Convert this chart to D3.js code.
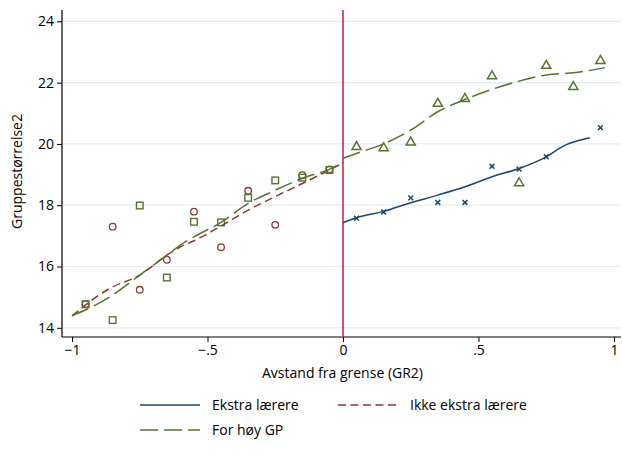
<!DOCTYPE html>
<html>
<head>
<meta charset="utf-8">
<script src="https://cdn.jsdelivr.net/npm/d3@7"></script>
<style>
  body { margin: 0; background: #fff; }
  svg { display: block; font-family: "Open Sans", "Noto Sans", sans-serif; }
</style>
</head>
<body>
<svg id="chart" width="622" height="459"></svg>
<script>
// binned means, left of the border
var xLeft = [-0.95, -0.85, -0.75, -0.65, -0.55, -0.45, -0.35, -0.25, -0.15, -0.05];
var ikkeEkstra = [14.77, 17.30, 15.24, 16.22, 17.79, 16.63, 18.47, 17.36, 18.98, 19.17];
var forHoyLeft = [14.77, 14.25, 17.99, 15.64, 17.46, 17.44, 18.24, 18.81, 18.90, 19.15];

// binned means, right of the border
var xRight = [0.05, 0.15, 0.25, 0.35, 0.45, 0.55, 0.65, 0.75, 0.85, 0.95];
var forHoyRight = [19.93, 19.89, 20.08, 21.34, 21.50, 22.24, 18.75, 22.58, 21.89, 22.74];
var xEkstra = [0.05, 0.15, 0.25, 0.35, 0.45, 0.55, 0.65, 0.75, 0.95];
var ekstra = [17.58, 17.78, 18.24, 18.09, 18.09, 19.27, 19.18, 19.58, 20.53];

// lowess fits
var fitXLeft = [-1.0, -0.86, -0.75, -0.65, -0.6, -0.55, -0.45, -0.35, -0.25, -0.15, -0.05, 0];
var fitIkke = [14.39, 15.29, 15.72, 16.37, 16.64, 16.84, 17.32, 17.84, 18.28, 18.71, 19.15, 19.38];
var fitForHoyLeft = [14.39, 15.01, 15.72, 16.37, 16.70, 16.97, 17.44, 18.06, 18.49, 18.88, 19.17, 19.40];
var fitXRight = [0, 0.05, 0.15, 0.25, 0.35, 0.45, 0.55, 0.65, 0.75, 0.85, 0.967];
var fitForHoyRight = [19.53, 19.69, 20.00, 20.45, 21.05, 21.45, 21.78, 22.05, 22.25, 22.32, 22.49];
var fitXEkstra = [0, 0.05, 0.15, 0.25, 0.35, 0.45, 0.55, 0.65, 0.75, 0.813, 0.911];
var fitEkstra = [17.43, 17.59, 17.80, 18.08, 18.33, 18.60, 18.93, 19.20, 19.58, 19.93, 20.20];

var xTicks = [-1, -0.5, 0, 0.5, 1];
var xTickLabels = ["\u22121", "\u2212.5", "0", ".5", "1"];
var yTicks = [14, 16, 18, 20, 22, 24];

var navy = "#1a476f", maroon = "#90353b", green = "#55752f", border = "#c42a55";

var svg = d3.select("#chart");
var pLeft = 62, pRight = 621, pTop = 10, pBottom = 337;

var x = d3.scaleLinear().domain([-1.037, 1.026]).range([pLeft, pRight]);
var y = d3.scaleLinear().domain([13.70, 24.37]).range([pBottom, pTop]);

// grid
svg.append("g").selectAll("line").data(yTicks).enter().append("line")
    .attr("x1", pLeft).attr("x2", pRight)
    .attr("y1", function (d) { return y(d); }).attr("y2", function (d) { return y(d); })
    .attr("stroke", "#e4eef0").attr("stroke-width", 1.2);

// axes
var yAxis = svg.append("g")
    .attr("transform", "translate(" + pLeft + ",0)")
    .call(d3.axisLeft(y).tickValues(yTicks).tickSize(5).tickPadding(3).tickFormat(d3.format("d")));
var xAxis = svg.append("g")
    .attr("transform", "translate(0," + pBottom + ")")
    .call(d3.axisBottom(x).tickValues(xTicks).tickSize(5).tickPadding(3)
        .tickFormat(function (d, i) { return xTickLabels[i]; }));
[xAxis, yAxis].forEach(function (a) {
    a.select(".domain").attr("stroke", "#000").attr("stroke-width", 1.2);
    a.selectAll(".tick line").attr("stroke", "#000");
    a.selectAll("text").attr("font-size", 14).attr("fill", "#000")
        .attr("font-family", "'Open Sans', sans-serif");
});
yAxis.select(".domain").attr("d", "M0," + pTop + "V" + pBottom);
xAxis.select(".domain").attr("d", "M" + pLeft + ",0H" + pRight);

svg.append("text")
    .attr("x", (pLeft + pRight) / 2 + 1).attr("y", 378)
    .attr("text-anchor", "middle").attr("font-size", 14)
    .text("Avstand fra grense (GR2)");
svg.append("text")
    .attr("transform", "translate(22," + ((pTop + pBottom) / 2 - 2) + ")rotate(-90)")
    .attr("text-anchor", "middle").attr("font-size", 14)
    .text("Gruppestørrelse2");

// border at 0
svg.append("line")
    .attr("x1", x(0)).attr("x2", x(0)).attr("y1", pTop).attr("y2", pBottom)
    .attr("stroke", border).attr("stroke-width", 1.6);

// markers
function zip(xs, ys) { return xs.map(function (v, i) { return [v, ys[i]]; }); }

svg.append("g").selectAll("circle").data(zip(xLeft, ikkeEkstra)).enter().append("circle")
    .attr("cx", function (d) { return x(d[0]); }).attr("cy", function (d) { return y(d[1]); })
    .attr("r", 3.3).attr("fill", "none").attr("stroke", maroon).attr("stroke-width", 1.3);

svg.append("g").selectAll("rect").data(zip(xLeft, forHoyLeft)).enter().append("rect")
    .attr("x", function (d) { return x(d[0]) - 3.3; }).attr("y", function (d) { return y(d[1]) - 3.3; })
    .attr("width", 6.6).attr("height", 6.6)
    .attr("fill", "none").attr("stroke", green).attr("stroke-width", 1.4);

var tri = d3.symbol().type(d3.symbolTriangle).size(36);
svg.append("g").selectAll("path").data(zip(xRight, forHoyRight)).enter().append("path")
    .attr("transform", function (d) { return "translate(" + x(d[0]) + "," + (y(d[1]) + 0.8) + ")"; })
    .attr("d", tri).attr("fill", "none").attr("stroke", green).attr("stroke-width", 1.5);

svg.append("g").selectAll("path").data(zip(xEkstra, ekstra)).enter().append("path")
    .attr("transform", function (d) { return "translate(" + x(d[0]) + "," + y(d[1]) + ")"; })
    .attr("d", "M-2.4,-2.4L2.4,2.4M-2.4,2.4L2.4,-2.4")
    .attr("fill", "none").attr("stroke", navy).attr("stroke-width", 1.5);

// fitted lines
var line = d3.line()
    .x(function (d) { return x(d[0]); }).y(function (d) { return y(d[1]); })
    .curve(d3.curveMonotoneX);

function fit(xs, ys, color, dash) {
    svg.append("path").datum(zip(xs, ys))
        .attr("d", line).attr("fill", "none")
        .attr("stroke", color).attr("stroke-width", 1.5)
        .attr("stroke-dasharray", dash);
}
fit(fitXLeft, fitIkke, maroon, "8,4.5");
fit(fitXLeft, fitForHoyLeft, green, "18,6");
fit(fitXRight, fitForHoyRight, green, "18,6");
fit(fitXEkstra, fitEkstra, navy, null);

// legend
var legend = [
    { label: "Ekstra lærere", color: navy, dash: null, lx: 140, ly: 405 },
    { label: "Ikke ekstra lærere", color: maroon, dash: "8,4.5", lx: 338, ly: 405 },
    { label: "For høy GP", color: green, dash: "18,6", lx: 140, ly: 430 }
];
var lg = svg.append("g").selectAll("g").data(legend).enter().append("g");
lg.append("line")
    .attr("x1", function (d) { return d.lx; }).attr("x2", function (d) { return d.lx + 60; })
    .attr("y1", function (d) { return d.ly; }).attr("y2", function (d) { return d.ly; })
    .attr("stroke", function (d) { return d.color; }).attr("stroke-width", 1.5)
    .attr("stroke-dasharray", function (d) { return d.dash; });
lg.append("text")
    .attr("x", function (d) { return d.lx + 72; }).attr("y", function (d) { return d.ly + 5; })
    .attr("font-size", 14)
    .text(function (d) { return d.label; });
</script>
</body>
</html>
